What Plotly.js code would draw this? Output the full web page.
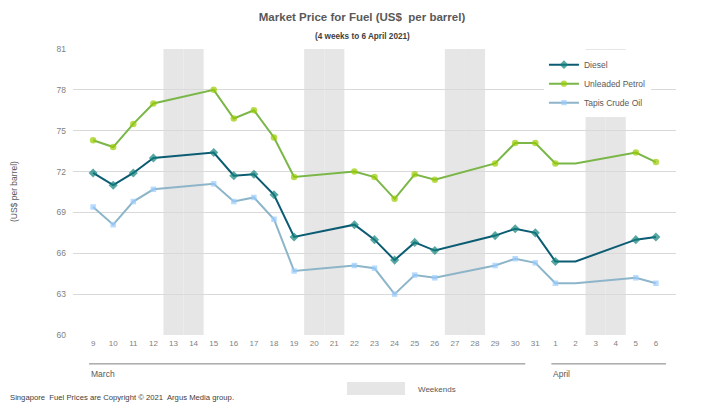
<!DOCTYPE html>
<html>
<head>
<meta charset="utf-8">
<script src="https://cdn.plot.ly/plotly-3.0.1.min.js"></script>
<style>html,body{margin:0;padding:0;background:#fff;}#chart{width:724px;height:408px;}</style>
</head>
<body>
<div id="chart"></div>
<script>
// Trading days (4 weeks to 6 April 2021)
const days = ['9','10','11','12','13','14','15','16','17','18','19','20','21','22','23','24','25','26','27','28','29','30','31','1','2','3','4','5','6'];
const dieselPrice   = [71.9,71.0,71.9,73.0,null,null,73.4,71.7,71.8,70.3,67.2,null,null,68.1,67.0,65.5,66.8,66.2,null,null,67.3,67.8,67.5,65.4,65.4,null,null,67.0,67.2];
const unleadedPrice = [74.3,73.8,75.5,77.0,null,null,78.0,75.9,76.5,74.5,71.6,null,null,72.0,71.6,70.0,71.8,71.4,null,null,72.6,74.1,74.1,72.6,72.6,null,null,73.4,72.7];
const tapisPrice    = [69.4,68.1,69.8,70.7,null,null,71.1,69.8,70.1,68.5,64.7,null,null,65.1,64.9,63.0,64.4,64.2,null,null,65.1,65.6,65.3,63.8,63.8,null,null,64.2,63.8];
const weekendDays = ['13','14','20','21','27','28','3','4'];
const holidayDays = ['2']; // Good Friday: price carried, no marker
const yTicks = [60,63,66,69,72,75,78,81];
const months = [{name:'March', from:'9', to:'31'}, {name:'April', from:'1', to:'6'}];

const idx = days.map((d,i)=>i);
const idxOf = d => days.indexOf(d);
const mSize = s => days.map(d => holidayDays.includes(d) ? 0 : s);
const font = 'Liberation Sans, Arial, sans-serif';
const grey = '#7f7f7f';

const traces = [
  {name:'Diesel', x:idx, y:dieselPrice, type:'scatter', mode:'lines+markers', connectgaps:true,
   line:{color:'#0b5c73', width:2}, marker:{symbol:'diamond', size:mSize(7), color:'#13817c', line:{width:0}}},
  {name:'Unleaded Petrol', x:idx, y:unleadedPrice, type:'scatter', mode:'lines+markers', connectgaps:true,
   line:{color:'#7ab648', width:2}, marker:{symbol:'circle', size:mSize(6.5), color:'#99cc00', line:{width:0}}},
  {name:'Tapis Crude Oil', x:idx, y:tapisPrice, type:'scatter', mode:'lines+markers', connectgaps:true,
   line:{color:'#8db5c9', width:2}, marker:{symbol:'square', size:mSize(5.5), color:'#99ccff', line:{width:0}}}
];

const shapes = weekendDays.map(d => ({type:'rect', xref:'x', yref:'paper', x0:idxOf(d)-0.5, x1:idxOf(d)+0.5, y0:0, y1:1,
  fillcolor:'#e6e6e6', line:{width:0}, layer:'below'}));
const annotations = [];
months.forEach((m,k) => {
  const x0 = idxOf(m.from) - 0.2, x1 = idxOf(m.to) + (k===0 ? -0.5 : 0.5);
  shapes.push({type:'line', xref:'x', yref:'paper', x0:x0, x1:x1, y0:-0.101, y1:-0.101, line:{color:grey, width:1}});
  annotations.push({xref:'x', yref:'paper', x:x0, y:-0.136, text:m.name, showarrow:false, xanchor:'left', yanchor:'middle',
    font:{family:font, size:8.5, color:'#595959'}});
});
shapes.push({type:'rect', xref:'paper', yref:'paper', x0:0.4544, x1:0.5506, y0:-0.1643, y1:-0.2098, fillcolor:'#e6e6e6', line:{width:0}});
annotations.push({xref:'paper', yref:'paper', x:0.5688, y:-0.1923, text:'Weekends', showarrow:false, xanchor:'left', yanchor:'middle',
  font:{family:font, size:8, color:'#595959'}});
annotations.push({xref:'paper', yref:'paper', x:-0.1078, y:-0.2168, text:'Singapore  Fuel Prices are Copyright © 2021  Argus Media group.', showarrow:false, xanchor:'left', yanchor:'middle',
  font:{family:font, size:7.7, color:'#404040'}});
annotations.push({xref:'paper', yref:'paper', x:-0.0978, y:0.5, text:'(US$ per barrel)', textangle:-90, showarrow:false, xanchor:'center', yanchor:'middle',
  font:{family:font, size:8.5, color:'#595959'}});
annotations.push({xref:'paper', yref:'paper', x:(362-73)/603, y:(335-36)/286, text:'<b>(4 weeks to 6 April 2021)</b>', showarrow:false, xanchor:'center', yanchor:'middle',
  font:{family:font, size:8.2, color:'#404040'}});

const layout = {
  width:724, height:408,
  margin:{l:73, r:48, t:49, b:73},
  paper_bgcolor:'#fff', plot_bgcolor:'rgba(0,0,0,0)',
  title:{text:'<b>Market Price for Fuel (US$  per barrel)</b>', x:0.5, xref:'container', y:1-17/408, yref:'container', yanchor:'middle',
    font:{family:font, size:11.5, color:'#595959'}},
  xaxis:{range:[-1,29], tickvals:idx, ticktext:days, showgrid:false, zeroline:false, showline:false, ticks:'',
    tickfont:{family:font, size:8, color:grey}, ticklabelstandoff:2},
  yaxis:{range:[60,81], tickvals:yTicks, showgrid:true, gridcolor:'#d9d9d9', gridwidth:1, zeroline:false, showline:false, ticks:'',
    tickfont:{family:font, size:8.5, color:grey}, ticklabelstandoff:6},
  legend:{x:0.781, y:0.996, xanchor:'left', yanchor:'top', bgcolor:'#ffffff', borderwidth:0,
    font:{family:font, size:8.5, color:'#595959'}, itemwidth:30, tracegroupgap:0},
  shapes:shapes, annotations:annotations,
  showlegend:true, hovermode:false
};
Plotly.newPlot('chart', traces, layout, {displayModeBar:false, staticPlot:true});
</script>
</body>
</html>
